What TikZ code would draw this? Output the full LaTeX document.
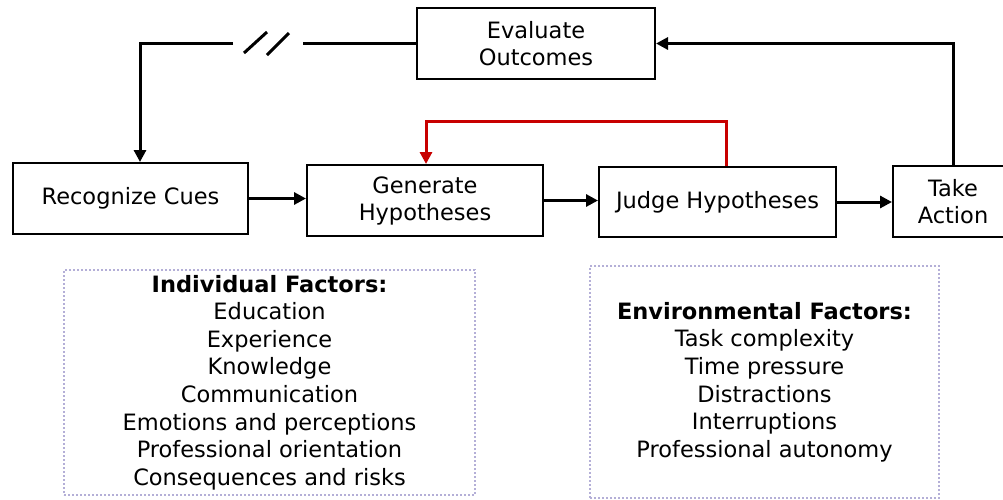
\documentclass[tikz,border=0pt]{standalone}
\usepackage{fontspec}
\setmainfont{DejaVu Sans}
\usetikzlibrary{arrows.meta}
\definecolor{dotcol}{RGB}{180,175,215}
\definecolor{redline}{RGB}{200,0,0}
\tikzset{
  stepbox/.style={draw=black, line width=2pt, inner sep=0pt, align=center,
    font=\fontsize{22.5}{27}\selectfont},
  factorbox/.style={draw=dotcol, line width=2pt, dash pattern=on 2pt off 2pt,
    inner sep=0pt, align=center, font=\fontsize{22.5}{27.6}\selectfont},
  conn/.style={line width=3pt, -{Triangle[length=12pt,width=12pt]}},
  plain/.style={line width=3pt},
  redconn/.style={draw=redline, line width=3pt, -{Triangle[length=12pt,width=12pt]}},
}
\begin{document}
\begin{tikzpicture}[x=1pt,y=-1pt]
\useasboundingbox (0,0) rectangle (1003,499);
\fill[white] (0,0) rectangle (1003,499);

% step boxes
\node[stepbox, minimum width=238pt, minimum height=71pt] (EO) at (536,43.5) {Evaluate\\Outcomes};
\node[stepbox, minimum width=235pt, minimum height=71pt] (RC) at (130.5,198.5) {Recognize Cues};
\node[stepbox, minimum width=236pt, minimum height=71pt] (GH) at (425,200.5) {Generate\\Hypotheses};
\node[stepbox, minimum width=237pt, minimum height=70pt] (JH) at (717.5,202) {Judge Hypotheses};
\node[stepbox, minimum width=120pt, minimum height=71pt] (TA) at (953,201.5) {Take\\Action};

% factor boxes
\node[factorbox, minimum width=411pt, minimum height=225pt] (IF) at (269.5,382.5)
  {\textbf{Individual Factors:}\\Education\\Experience\\Knowledge\\Communication\\Emotions and perceptions\\Professional orientation\\Consequences and risks};
\node[factorbox, minimum width=349pt, minimum height=232pt] (EF) at (764.5,382)
  {\textbf{Environmental Factors:}\\Task complexity\\Time pressure\\Distractions\\Interruptions\\Professional autonomy};

% main flow
\draw[conn] (RC.east) -- (RC.east -| GH.west);
\draw[conn] (GH.east) -- (GH.east -| JH.west);
\draw[conn] (JH.east) -- (JH.east -| TA.west);

% take action back to evaluate
\draw[conn] (TA.north) |- (EO.east);

% evaluate back to recognize cues with break
\coordinate (gapR) at (303,43);
\coordinate (gapL) at (233,43);
\coordinate (corner) at (140,43);
\coordinate (s1a) at (244,53);
\coordinate (s1b) at (267,32);
\coordinate (s2a) at (267,55);
\coordinate (s2b) at (289,33);
\draw[plain] (EO.west |- gapR) -- (gapR);
\draw[plain] (s1a) -- (s1b);
\draw[plain] (s2a) -- (s2b);
\draw[conn] (gapL) -- (corner) -- (corner |- RC.north);

% red feedback loop
\coordinate (r1) at (726,121);
\coordinate (r2) at (426,121);
\draw[redconn] (r1 |- JH.north) -- (r1) -- (r2) -- (r2 |- GH.north);
\end{tikzpicture}
\end{document}
